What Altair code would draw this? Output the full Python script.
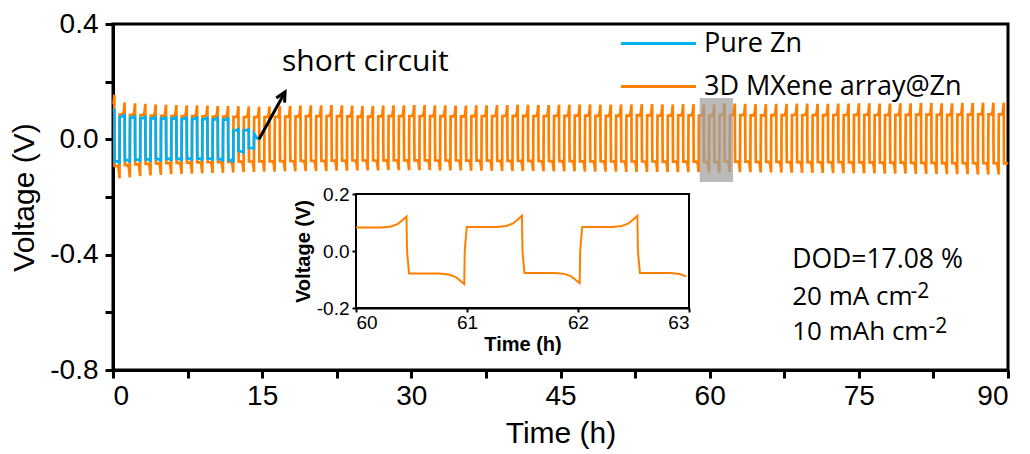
import altair as alt
import pandas as pd

ORANGE = "#FF8000"
BLUE = "#00B0F0"
SERIES = ["Pure Zn", "3D MXene array@Zn"]

# galvanostatic protocol: 0.5 h charge + 0.5 h discharge (period)
PERIOD = 1.04
FIRST_CHARGE = -0.38

# shape of one half cycle (offset in h, fraction of the end voltage)
half_offsets = [0.000, 0.006, 0.018, 0.290, 0.375, 0.435, 0.480, 0.515]
orange_fracs = [0.00, 0.25, 0.68, 0.68, 0.71, 0.78, 0.90, 1.00]
blue_fracs = [0.00, 0.35, 0.90, 0.90, 0.92, 0.94, 0.97, 1.00]

# end-of-charge / end-of-discharge voltages per cycle (V), 3D MXene array@Zn
orange_peaks = [
    0.155, 0.128, 0.125, 0.123, 0.121, 0.120, 0.119, 0.118, 0.118, 0.117,
    0.116, 0.116, 0.115, 0.114, 0.113, 0.114, 0.115, 0.116, 0.117, 0.118,
    0.118, 0.119, 0.118, 0.117, 0.116, 0.116, 0.117, 0.118, 0.118, 0.119,
    0.119, 0.118, 0.118, 0.117, 0.117, 0.118, 0.118, 0.119, 0.119, 0.120,
    0.120, 0.119, 0.119, 0.120, 0.120, 0.121, 0.121, 0.120, 0.120, 0.121,
    0.121, 0.122, 0.122, 0.121, 0.121, 0.122, 0.122, 0.121, 0.121, 0.124,
    0.124, 0.123, 0.122, 0.122, 0.123, 0.123, 0.124, 0.124, 0.123, 0.123,
    0.124, 0.124, 0.125, 0.125, 0.124, 0.124, 0.125, 0.125, 0.126, 0.126,
    0.125, 0.125, 0.126, 0.126, 0.127, 0.127, 0.127,
]
orange_troughs = [
    -0.135, -0.132, -0.128, -0.125, -0.123, -0.121, -0.120, -0.119, -0.118, -0.117,
    -0.116, -0.115, -0.114, -0.113, -0.112, -0.112, -0.111, -0.111, -0.110, -0.110,
    -0.110, -0.109, -0.109, -0.108, -0.108, -0.108, -0.107, -0.107, -0.107, -0.107,
    -0.107, -0.108, -0.108, -0.108, -0.109, -0.109, -0.109, -0.110, -0.110, -0.110,
    -0.110, -0.111, -0.111, -0.111, -0.111, -0.112, -0.112, -0.112, -0.112, -0.113,
    -0.113, -0.113, -0.113, -0.114, -0.114, -0.114, -0.114, -0.115, -0.116, -0.113,
    -0.114, -0.114, -0.115, -0.115, -0.115, -0.116, -0.116, -0.116, -0.117, -0.117,
    -0.117, -0.118, -0.118, -0.118, -0.119, -0.119, -0.119, -0.120, -0.120, -0.120,
    -0.121, -0.121, -0.121, -0.122, -0.122, -0.122, -0.123,
]

# Pure Zn: regular cycles, then the short-circuit section
blue_peaks = [0.105, 0.088, 0.084, 0.082, 0.081, 0.080, 0.080, 0.079, 0.079, 0.078, 0.077, 0.076]
blue_troughs = [-0.085, -0.080, -0.078, -0.077, -0.076, -0.075, -0.075, -0.074, -0.074, -0.074, -0.076, -0.080]
blue_sc_t = [12.10, 12.11, 12.40, 12.61, 12.62, 12.90, 13.13, 13.14, 13.40, 13.65, 13.66, 13.95, 14.17, 14.18, 14.45, 14.70]
blue_sc_v = [0.000, 0.030, 0.032, 0.035, -0.040, -0.042, -0.045, 0.030, 0.032, 0.034, -0.030, -0.030, -0.032, 0.020, 0.005, 0.000]

# axes
x_domain = [0, 90]
y_domain = [-0.8, 0.4]
x_tick_values = [0, 7.5, 15, 22.5, 30, 37.5, 45, 52.5, 60, 67.5, 75, 82.5, 90]
y_tick_values = [-0.8, -0.6, -0.4, -0.2, 0.0, 0.2, 0.4]
inset_x_domain = [60, 63]
inset_y_domain = [-0.2, 0.2]
inset_x_ticks = [60, 61, 62, 63]
inset_y_ticks = [-0.2, 0.0, 0.2]

# annotations
zoom_box = {"t0": 59.0, "t1": 62.35, "v0": 0.143, "v1": -0.148}
arrow = {"t0": 14.68, "v0": 0.0, "t1": 17.3, "v1": 0.164}


def cycle_rows(peaks, troughs, fracs):
    rows = []
    for k, (hi, lo) in enumerate(zip(peaks, troughs)):
        start = FIRST_CHARGE + k * PERIOD
        for off, f in zip(half_offsets, fracs):
            rows.append((start + off, f * hi))
        for off, f in zip(half_offsets, fracs):
            rows.append((start + PERIOD / 2 + off, f * lo))
    return rows


orange_rows = [(t, v) for t, v in cycle_rows(orange_peaks, orange_troughs, orange_fracs) if 0 <= t <= 90]
blue_rows = [(t, v) for t, v in cycle_rows(blue_peaks, blue_troughs, blue_fracs) if 0 <= t <= 12.1]
blue_rows += list(zip(blue_sc_t, blue_sc_v))

orange_df = pd.DataFrame(orange_rows, columns=["t", "v"])
orange_df["series"] = SERIES[1]
orange_df["i"] = range(len(orange_df))
blue_df = pd.DataFrame(blue_rows, columns=["t", "v"])
blue_df["series"] = SERIES[0]
blue_df["i"] = range(len(blue_df))
inset_df = orange_df[(orange_df.t >= 59.95) & (orange_df.t <= 63.0)].copy()

xs = alt.Scale(domain=x_domain, nice=False, zero=False)
ys = alt.Scale(domain=y_domain, nice=False, zero=False)

x_axis = alt.Axis(
    values=x_tick_values, title="Time (h)",
    labelExpr="datum.value % 15 == 0 ? format(datum.value, 'd') : ''",
    labelPadding=4, titlePadding=8,
)
y_axis = alt.Axis(
    values=y_tick_values, title="Voltage (V)",
    labelExpr="round(datum.value * 10) % 4 == 0 ? (datum.value < 0 ? '-' : '') + format(abs(datum.value), '.1f') : ''",
    labelPadding=7, titlePadding=10,
)

color = alt.Color(
    "series:N",
    scale=alt.Scale(domain=SERIES, range=[BLUE, ORANGE]),
    legend=alt.Legend(
        title=None, orient="none", legendX=532, legendY=6,
        symbolType="M-5,0H5", symbolSize=225, symbolStrokeWidth=3,
        labelFont="Open Sans", labelFontSize=27, labelColor="black",
        labelOffset=32, rowPadding=15, padding=0, labelLimit=500,
    ),
)

orange_line = alt.Chart(orange_df).mark_line(strokeWidth=2.7).encode(
    x=alt.X("t:Q", scale=xs, axis=x_axis),
    y=alt.Y("v:Q", scale=ys, axis=y_axis),
    color=color,
    order="i:Q",
)
blue_line = alt.Chart(blue_df).mark_line(strokeWidth=2.7).encode(
    x=alt.X("t:Q", scale=xs, axis=x_axis),
    y=alt.Y("v:Q", scale=ys, axis=y_axis),
    color=color,
    order="i:Q",
)

box = alt.Chart(pd.DataFrame([zoom_box])).mark_rect(color="#a0a0a0", opacity=0.72).encode(
    x="t0:Q", x2="t1:Q", y="v0:Q", y2="v1:Q"
)

arrow_line = alt.Chart(pd.DataFrame([arrow])).mark_rule(color="black", strokeWidth=3).encode(
    x="t0:Q", x2="t1:Q", y="v0:Q", y2="v1:Q"
)
arrow_head = alt.Chart(pd.DataFrame([arrow])).mark_point(
    shape="M-1,2L0,0L1,2", size=90, filled=False, stroke="black", strokeWidth=3, angle=29, opacity=1
).encode(x="t1:Q", y="v1:Q")


def label(text, t, v, size, font="Open Sans", align="left"):
    return alt.Chart().mark_text(
        text=text, font=font, fontSize=size, align=align, baseline="alphabetic", color="black"
    ).encode(x=alt.datum(t), y=alt.datum(v))


texts = [
    label("short circuit", 17.0, 0.237, 30),
    label("DOD=17.08 %", 68.3, -0.446, 26.5),
    label("20 mA cm", 68.3, -0.575, 26),
    label("-2", 80.2, -0.550, 21),
    label("10 mAh cm", 68.3, -0.696, 26),
    label("-2", 82.0, -0.672, 21),
]

main = alt.layer(orange_line, blue_line, box, arrow_line, arrow_head, *texts)

ixs = alt.Scale(domain=inset_x_domain, range=[243, 576], nice=False, zero=False, clamp=True)
iys = alt.Scale(domain=inset_y_domain, range=[284, 170], nice=False, zero=False)
inset_x_axis = alt.Axis(
    orient="bottom", offset=-62, values=inset_x_ticks, format="d", title="Time (h)",
    titleFontWeight="bold", titleFontSize=20, labelFontSize=19, tickSize=4,
    domainWidth=2, tickWidth=2, labelPadding=1, titlePadding=2,
)
inset_y_axis = alt.Axis(
    orient="left", offset=-243, values=inset_y_ticks, title="Voltage (V)",
    labelExpr="(datum.value < 0 ? '-' : '') + format(abs(datum.value), '.1f')",
    titleFontWeight="bold", titleFontSize=20, labelFontSize=19, tickSize=4,
    domainWidth=2, tickWidth=2, labelPadding=3, titlePadding=3,
)

frame = alt.Chart(pd.DataFrame({"t0": [inset_x_domain[0]], "t1": [inset_x_domain[1]],
                                "v0": [inset_y_domain[0]], "v1": [inset_y_domain[1]]})).mark_rect(
    fill="white", stroke="black", strokeWidth=2
).encode(
    x=alt.X("t0:Q", scale=ixs, axis=inset_x_axis), x2="t1:Q",
    y=alt.Y("v0:Q", scale=iys, axis=inset_y_axis), y2="v1:Q",
)
inset_line = alt.Chart(inset_df).mark_line(color=ORANGE, strokeWidth=2).encode(
    x=alt.X("t:Q", scale=ixs, axis=inset_x_axis),
    y=alt.Y("v:Q", scale=iys, axis=inset_y_axis),
    order="i:Q",
)
inset = alt.layer(frame, inset_line)

chart = alt.layer(main, inset).resolve_scale(x="independent", y="independent").properties(
    width=895, height=346,
    autosize=alt.AutoSizeParams(type="none"),
    padding={"left": 113, "top": 24, "right": 22, "bottom": 84},
).configure_view(stroke="black", strokeWidth=3).configure_axis(
    grid=False, domainColor="black", domainWidth=3, tickColor="black", tickWidth=3, tickSize=8,
    labelFont="Liberation Sans", labelFontSize=28, labelColor="black",
    titleFont="Liberation Sans", titleFontSize=30, titleFontWeight="normal", titleColor="black",
)

chart.save("out.html", embed_options={"renderer": "svg", "actions": False})
